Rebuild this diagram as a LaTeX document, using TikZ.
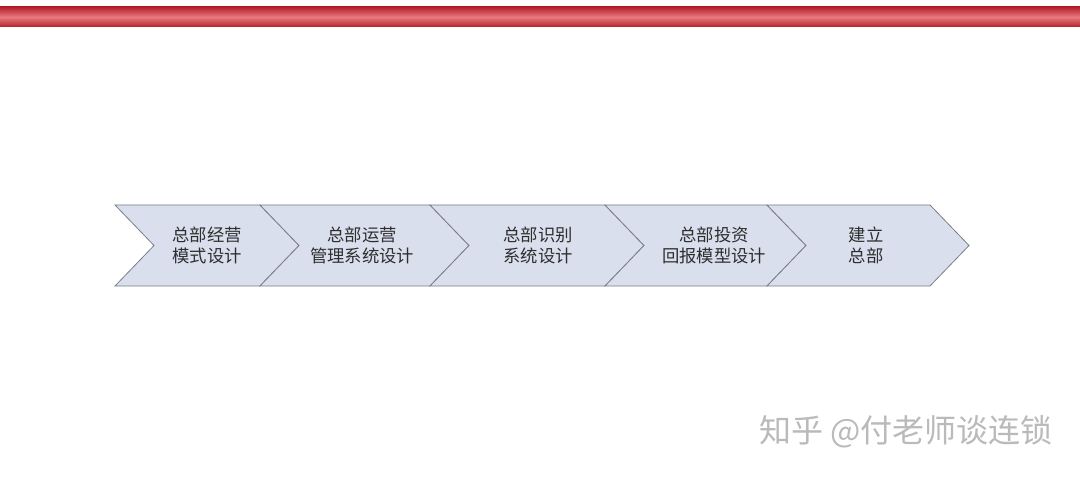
\documentclass[tikz,border=0pt]{standalone}
\usepackage{fontspec}
\newfontfamily\cjk{Noto Sans CJK SC}
\usetikzlibrary{calc}
\definecolor{barred}{HTML}{B3202A}
\definecolor{barpink}{HTML}{E97A7E}
\definecolor{chevfill}{HTML}{D9DFEC}
\definecolor{chevline}{HTML}{7A7F88}
\definecolor{steptext}{HTML}{2E2E2E}
\def\chevron[#1](#2:#3){\draw[#1] (#2, 205) -- (#3, 205) -- (#3+39, 245.5) -- (#3, 286) -- (#2, 286) -- (#2+39, 245.5) -- cycle;}
\tikzset{
	steplabel/.style={font=\cjk\fontsize{13pt}{15.75pt}\selectfont, text=steptext, align=center},
	chevbox/.style={fill=chevfill, draw=chevline, line width=0.6pt, line join=miter}
}

\begin{document}
\begin{tikzpicture}[x=0.75pt, y=-0.75pt]
			%%%%% START %%%%%
			
			\useasboundingbox[fill=white] (0, 0) rectangle (1080, 477);
			
			\fill[top color=barred, bottom color=barred, middle color=barpink] (0, 7) rectangle (1080, 27);
			
			\chevron[chevbox](115:260);
			\chevron[chevbox](260:430);
			\chevron[chevbox](430:605);
			\chevron[chevbox](605:767);
			\chevron[chevbox](767:930);
			
			\node[steplabel] (jingying) at (207, 245.5) {总部经营\\模式设计};
			\node[steplabel] (yunying) at (362, 245.5) {总部运营\\管理系统设计};
			\node[steplabel] (shibie) at (538, 245.5) {总部识别\\系统设计};
			\node[steplabel] (touzi) at (714, 245.5) {总部投资\\回报模型设计};
			\node[steplabel] (jianli) at (866, 245.5) {建立\\总部};
			
			\node[font=\cjk\fontsize{24pt}{28pt}\selectfont, text=black!27] (zhihu) at (906, 432) {知乎 @付老师谈连锁};
			
			%%%%% END %%%%%
		\end{tikzpicture}
\end{document}
